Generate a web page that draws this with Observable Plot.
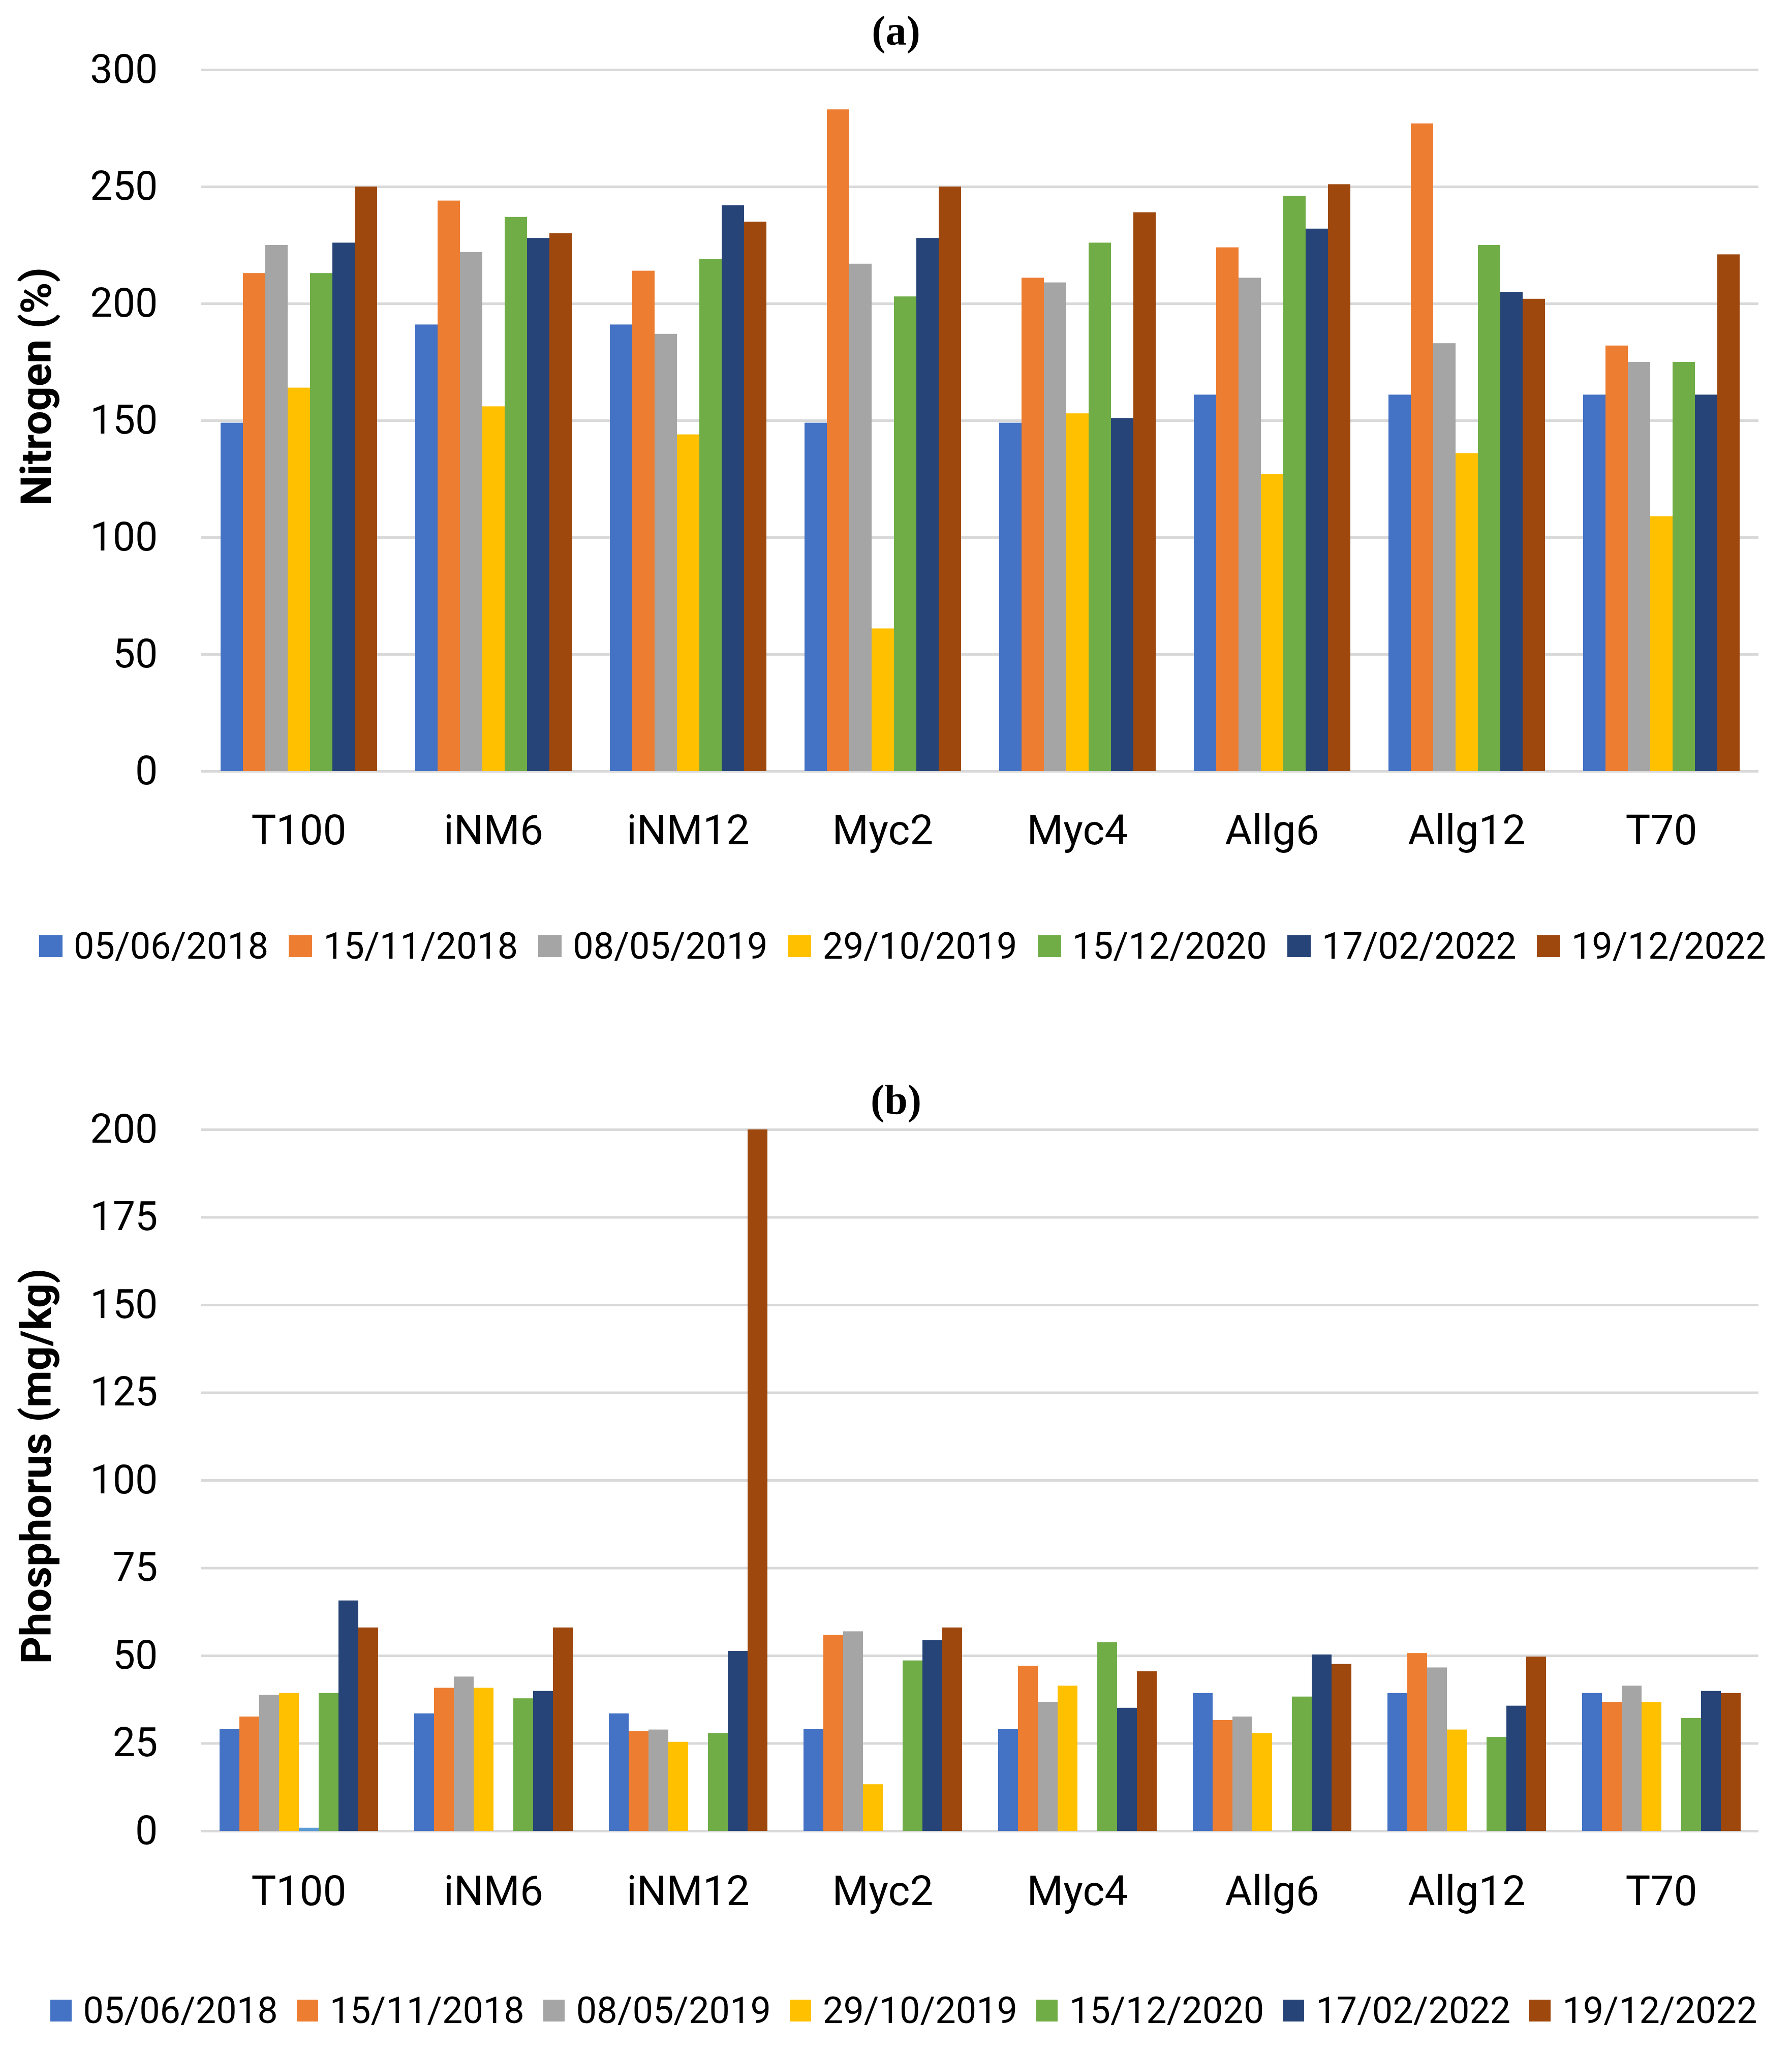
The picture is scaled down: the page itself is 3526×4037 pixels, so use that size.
<!DOCTYPE html>
<html>
<head>
<meta charset="utf-8">
<script src="https://cdn.jsdelivr.net/npm/d3@7"></script>
<script src="https://cdn.jsdelivr.net/npm/@observablehq/plot@0.6"></script>
<style>
  body { margin: 0; background: white; width: 3526px; font-family: Roboto, sans-serif; }
  .ttl { height: 40px; line-height: 40px; padding-top: 41px; text-align: center; font-family: "Liberation Serif", serif; font-weight: bold; font-size: 82px; color: black; }
  .leg { display: flex; justify-content: center; height: 90px; align-items: center; }
  .lgA-swatches, .lgB-swatches { font-family: Roboto, sans-serif !important; font-size: 72px !important; color: black; margin: 0 !important; }
  .lgA-swatches-wrap, .lgB-swatches-wrap { flex-wrap: nowrap !important; }
  .lgA-swatch > svg { margin-right: 22px !important; }
  .lgA-swatches-wrap .lgA-swatch { margin-right: 40px !important; }
  .lgB-swatch > svg { margin-right: 23px !important; }
  .lgB-swatches-wrap .lgB-swatch { margin-right: 37px !important; }
  .lgA-swatch:last-child, .lgB-swatch:last-child { margin-right: 0 !important; }
</style>
</head>
<body>
<div class="ttl">(a)</div>
<div id="chartA"></div>
<div class="leg" id="legA" style="margin-top:119px; padding-left:26px;"></div>
<div style="height:197px"></div>
<div class="ttl">(b)</div>
<div id="chartB"></div>
<div class="leg" id="legB" style="margin-top:128px; padding-left:30px;"></div>
<script>
const treatments = ["T100", "iNM6", "iNM12", "Myc2", "Myc4", "Allg6", "Allg12", "T70"];
const dates = ["05/06/2018", "15/11/2018", "08/05/2019", "29/10/2019", "15/12/2020", "17/02/2022", "19/12/2022"];
const colors = ["#4472C4", "#ED7D31", "#A5A5A5", "#FFC000", "#70AD47", "#264478", "#9E480E"];

// (a) nitrogen, one array per sampling date, in treatment order
const n_050618 = [149, 191, 191, 149, 149, 161, 161, 161];
const n_151118 = [213, 244, 214, 283, 211, 224, 277, 182];
const n_080519 = [225, 222, 187, 217, 209, 211, 183, 175];
const n_291019 = [164, 156, 144, 61, 153, 127, 136, 109];
const n_151220 = [213, 237, 219, 203, 226, 246, 225, 175];
const n_170222 = [226, 228, 242, 228, 151, 232, 205, 161];
const n_191222 = [250, 230, 235, 250, 239, 251, 202, 221];
const nTicks = [0, 50, 100, 150, 200, 250, 300];

// (b) phosphorus; the chart has an extra unlabelled series (5th slot)
const p_050618 = [29, 33.5, 33.5, 29, 29, 39.3, 39.3, 39.3];
const p_151118 = [32.6, 40.8, 28.5, 55.9, 47.1, 31.6, 50.7, 36.8];
const p_080519 = [38.8, 44, 28.9, 56.9, 36.8, 32.6, 46.6, 41.4];
const p_291019 = [39.3, 40.8, 25.4, 13.3, 41.4, 27.9, 28.9, 36.8];
const p_extra = [0.9, null, null, null, null, null, null, null];
const p_151220 = [39.3, 37.8, 27.9, 48.6, 53.8, 38.3, 26.8, 32.2];
const p_170222 = [65.7, 39.9, 51.3, 54.4, 35.1, 50.3, 35.7, 39.9];
const p_191222 = [58, 58, 200, 58, 45.5, 47.6, 49.7, 39.3];
const pTicks = [0, 25, 50, 75, 100, 125, 150, 175, 200];

const extraKey = "series5";
const datesB = [dates[0], dates[1], dates[2], dates[3], extraKey, dates[4], dates[5], dates[6]];
const colorsB = [colors[0], colors[1], colors[2], colors[3], "#5B9BD5", colors[4], colors[5], colors[6]];

function rows(keys, series) {
  return keys.flatMap((k, i) => treatments.map((t, j) => ({treatment: t, date: k, value: series[i][j]})))
    .filter(d => d.value != null);
}

const dataA = rows(dates, [n_050618, n_151118, n_080519, n_291019, n_151220, n_170222, n_191222]);
const dataB = rows(datesB, [p_050618, p_151118, p_080519, p_291019, p_extra, p_151220, p_170222, p_191222]);

function chart({data, keys, range, ticks, domain, label, marginTop, outer, labelDy, tickPad}) {
  return Plot.plot({
    width: 3526,
    height: marginTop + 1380 + 180,
    marginLeft: 396,
    marginRight: 66,
    marginTop: marginTop,
    marginBottom: 180,
    fx: {domain: treatments, padding: 0},
    x: {domain: keys, paddingInner: 0, paddingOuter: outer, axis: null},
    y: {domain: domain},
    color: {domain: keys, range: range},
    style: {fontFamily: "Roboto", background: "white", color: "black", overflow: "visible"},
    marks: [
      Plot.gridY(ticks, {stroke: "#d9d9d9", strokeOpacity: 1, strokeWidth: 5}),
      Plot.barY(data, {fx: "treatment", x: "date", y: "value", fill: "date"}),
      Plot.axisY(ticks, {tickSize: 0, tickPadding: 86, fontSize: 79, label: null}),
      Plot.axisFx({anchor: "bottom", tickSize: 0, tickPadding: tickPad, fontSize: 82, label: null}),
      Plot.text([label], {
        fx: () => treatments[0], text: d => d, frameAnchor: "left", rotate: -90,
        textAnchor: "middle", lineAnchor: "top", dx: -356, dy: labelDy,
        fontSize: 84, fontWeight: "bold", fill: "black"
      })
    ]
  });
}

d3.select("#chartA").append(() => chart({
  data: dataA, keys: dates, range: colors, ticks: nTicks, domain: [0, 300],
  label: "Nitrogen (%)", marginTop: 56, outer: 0.775, labelDy: -67, tickPad: 85
}));
d3.select("#chartB").append(() => chart({
  data: dataB, keys: datesB, range: colorsB, ticks: pTicks, domain: [0, 200],
  label: "Phosphorus (mg/kg)", marginTop: 38, outer: 0.81, labelDy: -28, tickPad: 87
}));

d3.select("#legA").append(() => Plot.legend({
  color: {type: "categorical", domain: dates, range: colors},
  legend: "swatches", swatchWidth: 46, swatchHeight: 43, className: "lgA"
}));
d3.select("#legB").append(() => Plot.legend({
  color: {type: "categorical", domain: dates, range: colors},
  legend: "swatches", swatchWidth: 42, swatchHeight: 43, className: "lgB"
}));
</script>
</body>
</html>
